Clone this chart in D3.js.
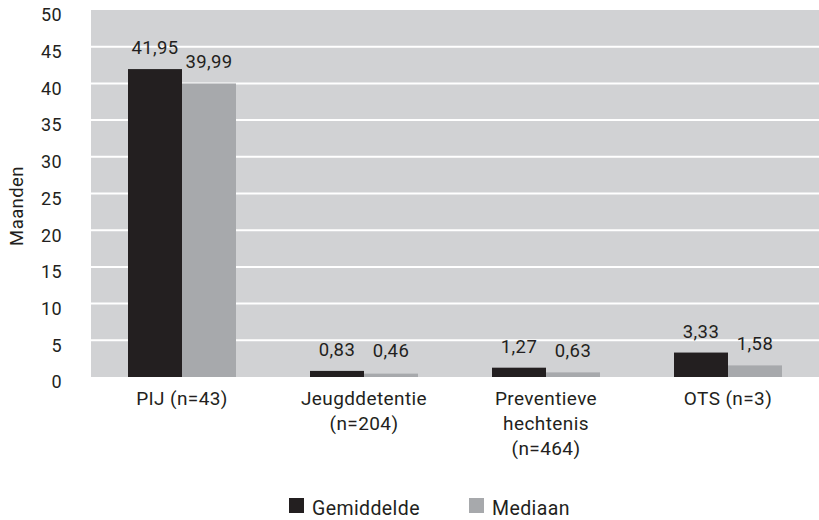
<!DOCTYPE html>
<html><head><meta charset="utf-8">
<script src="https://cdn.jsdelivr.net/npm/d3@7"></script>
<style>body{margin:0;background:#fff}svg{display:block}text{font-family:Roboto,"Liberation Sans",sans-serif;fill:#231f20;letter-spacing:0.4px}</style>
</head><body>
<svg id="c" width="819" height="520"></svg>
<script>
const categories = [["PIJ (n=43)"], ["Jeugddetentie", "(n=204)"], ["Preventieve", "hechtenis", "(n=464)"], ["OTS (n=3)"]];
const seriesNames = ["Gemiddelde", "Mediaan"];
const gemiddelde = [41.95, 0.83, 1.27, 3.33];
const mediaan = [39.99, 0.46, 0.63, 1.58];
const yTicks = [0, 5, 10, 15, 20, 25, 30, 35, 40, 45, 50];
const colors = ["#231f20", "#a7a9ac"];

const svg = d3.select("#c");
const L = 91, R = 819, T = 10, B = 377;
const x = d3.scaleBand().domain(d3.range(categories.length)).range([L, R]);
const y = d3.scaleLinear().domain([0, 50]).range([B, T]);
const inner = d3.scaleBand().domain([0, 1]).range([0, 108]);
const fmt = v => d3.format(".2f")(v).replace(".", ",");

svg.append("rect").attr("x", L).attr("y", T).attr("width", R - L).attr("height", B - T).attr("fill", "#d1d2d4");
svg.append("g").selectAll("line").data(yTicks.filter(t => t > 0 && t < 50)).join("line")
  .attr("x1", L).attr("x2", R).attr("y1", d => y(d)).attr("y2", d => y(d))
  .attr("stroke", "#fff").attr("stroke-width", 2);

const yAxis = svg.append("g").attr("transform", `translate(${L},0)`)
  .call(d3.axisLeft(y).tickValues(yTicks).tickSize(0).tickPadding(29));
yAxis.select(".domain").remove();
yAxis.selectAll("text").attr("font-size", 18).attr("dy", "0.6em")
  .style("font-family", "Roboto,sans-serif").style("letter-spacing", "0.4px").attr("fill", "#231f20");

const data = categories.map((c, i) => ({i, vals: [gemiddelde[i], mediaan[i]]}));
const groups = svg.append("g").selectAll("g").data(data).join("g")
  .attr("transform", d => `translate(${x(d.i) + x.bandwidth() / 2 - 54},0)`);
groups.selectAll("rect").data(d => d.vals.map((v, k) => ({v, k}))).join("rect")
  .attr("x", d => inner(d.k)).attr("width", inner.bandwidth())
  .attr("y", d => y(d.v)).attr("height", d => B - y(d.v))
  .attr("fill", d => colors[d.k]);
groups.selectAll("text.val").data(d => d.vals.map((v, k) => ({v, k}))).join("text")
  .attr("class", "val")
  .attr("x", d => inner(d.k) + inner.bandwidth() / 2)
  .attr("y", d => Math.min(y(d.v) - 15, B - 20))
  .attr("text-anchor", "middle").attr("font-size", 18.5)
  .text(d => fmt(d.v));

const cl = svg.append("g").selectAll("text").data(categories).join("text")
  .attr("text-anchor", "middle").attr("font-size", 19)
  .attr("x", (d, i) => x(i) + x.bandwidth() / 2).attr("y", 405);
cl.selectAll("tspan").data(d => d).join("tspan")
  .attr("x", function () { return this.parentNode.getAttribute("x"); })
  .attr("dy", (d, j) => j === 0 ? 0 : 25).text(d => d);

svg.append("text").attr("transform", "translate(23,206) rotate(-90)")
  .attr("text-anchor", "middle").attr("font-size", 18.5).text("Maanden");

const legX = [289, 469];
const lg = svg.append("g").selectAll("g").data(seriesNames).join("g")
  .attr("transform", (d, i) => `translate(${legX[i]},498)`);
lg.append("rect").attr("width", 15).attr("height", 15).attr("fill", (d, i) => colors[i]);
lg.append("text").attr("x", 23).attr("y", 17).attr("font-size", 19.5).text(d => d);
</script>
</body></html>
